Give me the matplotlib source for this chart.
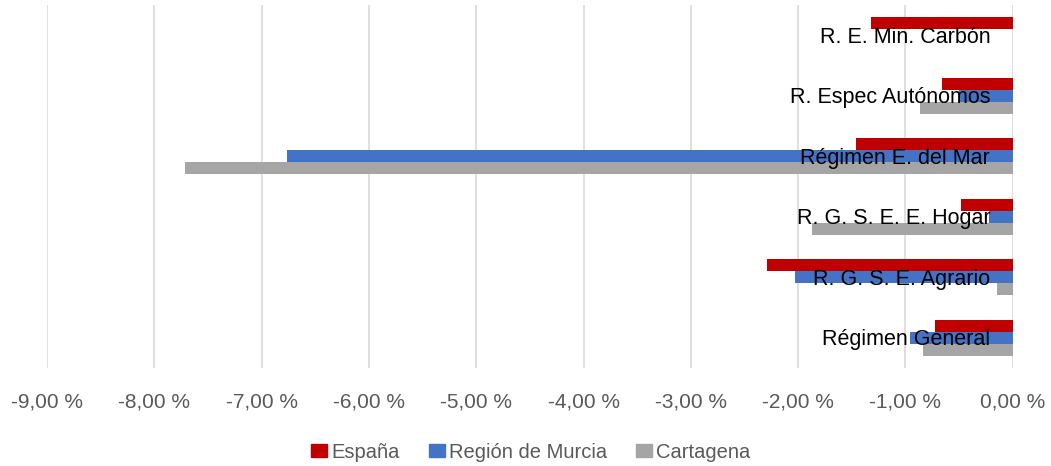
import matplotlib.pyplot as plt
import numpy as np
from matplotlib.ticker import FuncFormatter
from matplotlib.patches import Patch

# Datos (variación en %)
categorias = ['Régimen General', 'R. G. S. E. Agrario', 'R. G. S. E. E. Hogar',
              'Régimen E. del Mar', 'R. Espec Autónomos', 'R. E. Min. Carbón']
espana = [-0.72, -2.29, -0.48, -1.46, -0.66, -1.32]
murcia = [-0.96, -2.03, -0.22, -6.76, -0.50, 0.0]
cartagena = [-0.84, -0.15, -1.87, -7.71, -0.865, 0.0]

series = ['España', 'Región de Murcia', 'Cartagena']
colores = ['#c00000', '#4472c4', '#a5a5a5']

plt.rcParams['font.family'] = ['Liberation Sans', 'DejaVu Sans']

fig = plt.figure(figsize=(10.51, 4.66), dpi=100)
ax = fig.add_axes([47 / 1051, 1 - 368 / 466, (1012.7 - 47) / 1051, 363 / 466])

y = np.arange(len(categorias))
h = 0.2
ax.barh(y + h, espana, height=h, color=colores[0], zorder=2)
ax.barh(y, murcia, height=h, color=colores[1], zorder=2)
ax.barh(y - h, cartagena, height=h, color=colores[2], zorder=2)

# etiquetas de categoría sobre las barras (como en Excel)
for yi, cat in zip(y, categorias):
    ax.text(-0.21, yi - 0.03, cat, ha='right', va='center', fontsize=15.5,
            color='black', zorder=3)

ax.set_xlim(-9, 0)
ax.set_ylim(-0.5, len(categorias) - 0.5)
ax.set_xticks(np.arange(-9, 1, 1))
ax.xaxis.set_major_formatter(FuncFormatter(lambda v, p: f"{v:.2f}".replace('.', ',') + ' %'))
ax.set_yticks([])
ax.tick_params(axis='x', length=0, pad=18, labelsize=15, labelcolor='#595959')
ax.grid(axis='x', color='#d9d9d9', linewidth=1.2, zorder=0)
for s in ax.spines.values():
    s.set_visible(False)

handles = [Patch(color=c, label=s) for c, s in zip(colores, series)]
fig.legend(handles=handles, loc='center', bbox_to_anchor=(0.505, 1 - 452 / 466), ncol=3,
           frameon=False, fontsize=14.5, handlelength=0.8, handleheight=0.6,
           handletextpad=0.2, columnspacing=1.45, labelcolor='#595959',
           borderpad=0, borderaxespad=0)

fig.savefig('out.png', dpi=100)
